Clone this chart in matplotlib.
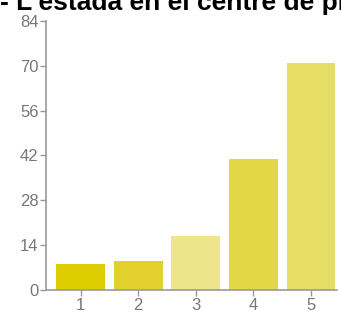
import matplotlib
matplotlib.use("Agg")
import matplotlib.pyplot as plt

categories = ["1", "2", "3", "4", "5"]
values = [8, 9, 17, 41, 71]
colors = ["#DDCC00", "#E2D02C", "#EEE48A", "#E3D747", "#E6DD66"]
yticks = [0, 14, 28, 42, 56, 70, 84]
title = "- L'estada en el centre de pràctiques"

plt.rcParams["font.family"] = ["Liberation Sans", "DejaVu Sans"]

fig = plt.figure(figsize=(3.41, 3.16), dpi=100)
ax = fig.add_axes([0.135, 0.082, 0.853, 0.852])

x = list(range(1, len(categories) + 1))
ax.bar(x, values, width=0.85, color=colors)

ax.set_xlim(0.40, 5.45)
ax.set_ylim(0, 84)
ax.set_yticks(yticks)
ax.set_xticks(x)
ax.set_xticklabels(categories)

for side in ["top", "right"]:
    ax.spines[side].set_visible(False)
for side in ["left", "bottom"]:
    ax.spines[side].set_color("#999999")
    ax.spines[side].set_linewidth(1.2)
ax.tick_params(colors="#999999", labelcolor="#777777", labelsize=12, length=4.5, width=1)
ax.tick_params(axis="y", pad=1)
ax.tick_params(axis="x", pad=1)

fig.text(0.0, 1 - 10 / 316, title, fontsize=19, fontweight="bold", va="baseline", ha="left")

fig.savefig("out.png", dpi=100)
